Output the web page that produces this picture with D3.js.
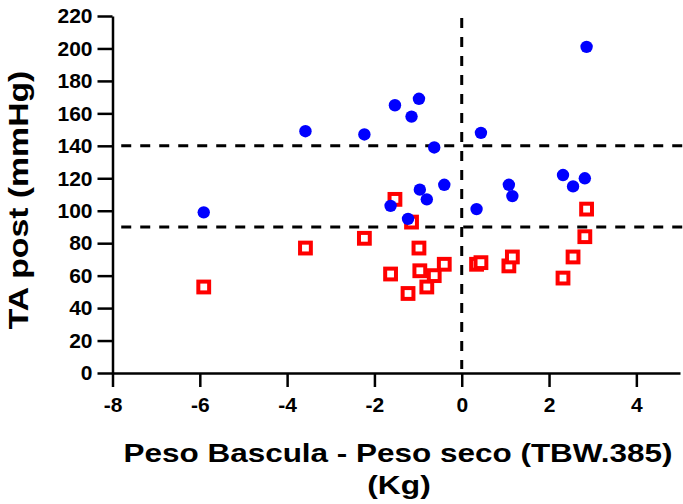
<!DOCTYPE html>
<html>
<head>
<meta charset="utf-8">
<script src="https://cdn.jsdelivr.net/npm/d3@7"></script>
<style>
  body { margin: 0; background: #fff; }
  text { font-family: "Liberation Sans", Arial, sans-serif; font-weight: bold; }
</style>
</head>
<body>
<div id="chart"></div>
<script>
// Peso bascula - peso seco (Kg), one value per patient
const pesoDiff = [-5.91, -3.58, -2.23, -1.63, -1.53, -1.23, -1.15, -0.98, -0.96, -0.80,
                  -0.63, -0.40, 0.34, 0.44, 1.08, 1.16, 2.32, 2.55, 2.82, 2.86];
// TA post sistolica (circulos azules)
const taSistolica = [99, 149, 147, 103, 165, 95, 158, 169, 113, 107,
                     139, 116, 101, 148, 116, 109, 122, 115, 120, 201];
// TA post diastolica (cuadrados rojos)
const taDiastolica = [53, 77, 83, 61, 107, 49, 93, 77, 63, 53,
                      60, 67, 67, 68, 66, 71.5, 58.5, 71.5, 84, 101];

const xTicks = [-8, -6, -4, -2, 0, 2, 4];
const yTicks = [0, 20, 40, 60, 80, 100, 120, 140, 160, 180, 200, 220];
const refLinesY = [140, 90];
const refLinesX = [0];

class Scatter {

    constructor(_config) {
      this.config = {
        parentElement: _config.parentElement,
        containerWidth: _config.containerWidth || 683,
        containerHeight: _config.containerHeight || 504,
        margin: _config.margin || {top: 16, right: 3, bottom: 131, left: 112.5},
      }
      this.initVis();
    }

    initVis() {
        let vis = this;
        vis.width = vis.config.containerWidth - vis.config.margin.left - vis.config.margin.right;
        vis.height = vis.config.containerHeight - vis.config.margin.top - vis.config.margin.bottom;

        vis.svg = d3.select(vis.config.parentElement)
            .append("svg")
                .attr("width", vis.config.containerWidth)
                .attr("height", vis.config.containerHeight)
            .append("g")
                .attr("transform", "translate(" + vis.config.margin.left + "," + vis.config.margin.top + ")");

        vis.x = d3.scaleLinear().domain([-8, 5]).range([0, vis.width]);
        vis.y = d3.scaleLinear().domain([0, 220]).range([vis.height, 0]);

        vis.refG = vis.svg.append("g").attr("class", "refG");
        vis.axesG = vis.svg.append("g").attr("class", "axesG");
        vis.marksG = vis.svg.append("g").attr("class", "marksG");

        vis.renderVis();
    }

    // the original font runs wider than Liberation Sans, so stretch the titles a bit
    stretch(sel, k) {
        sel.each(function() {
            let w = this.getComputedTextLength();
            d3.select(this)
                .attr("textLength", w * k)
                .attr("lengthAdjust", "spacingAndGlyphs");
        });
    }

    renderVis() {
        let vis = this;

        // dashed reference lines
        vis.refG.selectAll(".hline")
            .data(refLinesY)
            .join("line")
            .attr("class", "hline")
            .attr("x1", vis.x(-7.8))
            .attr("x2", vis.width + 3)
            .attr("y1", d => vis.y(d))
            .attr("y2", d => vis.y(d));

        vis.refG.selectAll(".vline")
            .data(refLinesX)
            .join("line")
            .attr("class", "vline")
            .attr("x1", d => vis.x(d))
            .attr("x2", d => vis.x(d))
            .attr("y1", vis.y(220) + 2)
            .attr("y2", vis.y(0) - 4);

        vis.refG.selectAll("line")
            .style("stroke", "#000")
            .style("stroke-width", 3)
            .style("stroke-dasharray", "10,9");

        // axes
        let xAxis = d3.axisBottom(vis.x)
            .tickValues(xTicks)
            .tickFormat(d3.format("d"))
            .tickSize(14)
            .tickPadding(10)
            .tickSizeOuter(0);

        let yAxis = d3.axisLeft(vis.y)
            .tickValues(yTicks)
            .tickSize(15)
            .tickPadding(5)
            .tickSizeOuter(0);

        vis.axesG.append("g")
            .attr("transform", "translate(0," + vis.height + ")")
            .call(xAxis);

        vis.axesG.append("g")
            .call(yAxis);

        vis.axesG.selectAll(".domain, .tick line")
            .style("stroke", "#000")
            .style("stroke-width", 2.5);

        vis.axesG.selectAll(".tick text")
            .style("font-size", "21px")
            .style("fill", "#000")
            .text(function(d) { return String(d); });

        // axis titles
        vis.svg.append("text")
            .attr("x", 398 - vis.config.margin.left)
            .attr("y", vis.height + 89)
            .style("text-anchor", "middle")
            .style("font-size", "26px")
            .text("Peso Bascula - Peso seco (TBW.385)")
            .call(s => vis.stretch(s, 1.21));

        vis.svg.append("text")
            .attr("x", 399 - vis.config.margin.left)
            .attr("y", vis.height + 121)
            .style("text-anchor", "middle")
            .style("font-size", "26px")
            .text("(Kg)")
            .call(s => vis.stretch(s, 1.22));

        vis.svg.append("text")
            .attr("transform", "translate(" + (28 - vis.config.margin.left) + "," + (200 - vis.config.margin.top) + ") rotate(-90)")
            .style("text-anchor", "middle")
            .style("font-size", "27px")
            .text("TA post (mmHg)")
            .call(s => vis.stretch(s, 1.25));

        // red squares first, blue circles drawn on top
        let half = 5.4;
        vis.marksG.selectAll("rect")
            .data(pesoDiff.map((d, i) => ({x: d, y: taDiastolica[i]})))
            .join("rect")
            .attr("x", d => vis.x(d.x) - half)
            .attr("y", d => vis.y(d.y) - half)
            .attr("width", half * 2)
            .attr("height", half * 2)
            .style("fill", "#fff")
            .style("stroke", "#ff0000")
            .style("stroke-width", 4);

        vis.marksG.selectAll("circle")
            .data(pesoDiff.map((d, i) => ({x: d, y: taSistolica[i]})))
            .join("circle")
            .attr("cx", d => vis.x(d.x))
            .attr("cy", d => vis.y(d.y))
            .attr("r", 6.2)
            .style("fill", "#0000ff");
    }
}

let chart = new Scatter({parentElement: "#chart"});
</script>
</body>
</html>
